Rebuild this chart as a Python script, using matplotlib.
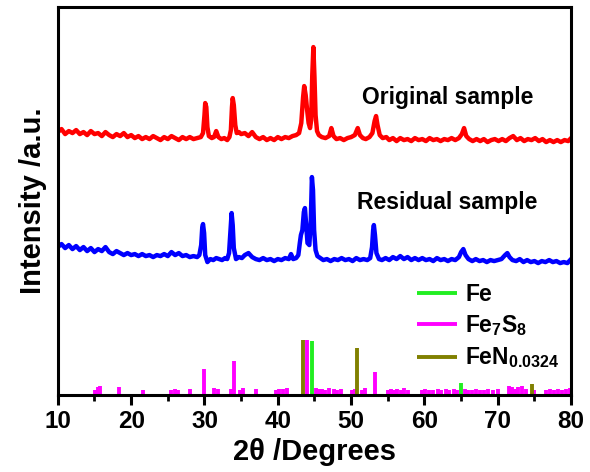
import matplotlib
matplotlib.use("Agg")
import matplotlib.pyplot as plt
from matplotlib.ticker import MultipleLocator

# XRD patterns (2theta in degrees, intensity in a.u. with offsets baked in)
red_2theta = [10.0, 10.5, 11.0, 11.5, 12.0, 12.5, 13.0, 13.5, 14.0, 14.5, 15.0, 15.5, 16.0, 16.5,
              17.0, 17.5, 18.0, 18.5, 19.0, 19.5, 20.0, 20.5, 21.0, 21.5, 22.0, 22.5, 23.0, 23.5,
              24.0, 24.5, 25.0, 25.5, 26.0, 26.5, 27.0, 27.5, 28.0, 28.5, 29.0, 29.5, 29.8, 30.0,
              30.1, 30.25, 30.4, 30.6, 31.0, 31.3, 31.6, 31.9, 32.3, 32.7, 33.1, 33.4, 33.6, 33.75,
              33.85, 34.0, 34.2, 34.4, 34.7, 35.0, 35.5, 36.0, 36.5, 37.0, 37.5, 38.0, 38.5, 39.0,
              39.5, 40.0, 40.5, 41.0, 41.5, 42.0, 42.5, 42.9, 43.2, 43.45, 43.6, 43.8, 44.0, 44.2,
              44.4, 44.55, 44.7, 44.85, 45.0, 45.15, 45.35, 45.6, 46.0, 46.5, 47.0, 47.3, 47.6, 48.0,
              48.5, 49.0, 49.5, 50.0, 50.5, 50.9, 51.2, 51.6, 52.0, 52.5, 52.9, 53.2, 53.4, 53.6,
              53.9, 54.3, 54.8, 55.2, 55.7, 56.2, 56.7, 57.2, 57.7, 58.2, 58.7, 59.2, 59.7, 60.2,
              60.7, 61.2, 61.7, 62.2, 62.7, 63.2, 63.7, 64.2, 64.7, 65.1, 65.4, 65.7, 66.1, 66.6,
              67.1, 67.6, 68.1, 68.6, 69.1, 69.6, 70.1, 70.6, 71.1, 71.6, 72.1, 72.6, 73.1, 73.6,
              74.1, 74.6, 75.1, 75.6, 76.1, 76.6, 77.1, 77.6, 78.1, 78.6, 79.1, 79.6, 80.0]
red_int = [263, 266, 261, 264, 262, 265, 261, 263, 260, 264, 261, 262, 259, 263,
           260, 258, 261, 259, 262, 258, 260, 257, 259, 256, 258, 256, 259, 257,
           255, 258, 256, 259, 257, 255, 258, 256, 258, 256, 257, 258, 262, 280,
           292, 288, 268, 259, 257, 258, 264, 258, 256, 257, 255, 258, 265, 288,
           297, 290, 270, 262, 263, 261, 262, 259, 263, 258, 256, 258, 255, 257,
           255, 258, 256, 258, 257, 259, 260, 262, 272, 298, 309, 300, 285, 272,
           267, 275, 320, 348, 318, 280, 264, 260, 258, 257, 259, 267, 259, 256,
           257, 255, 257, 258, 260, 267, 260, 257, 256, 258, 262, 274, 279, 270,
           260, 257, 258, 255, 257, 254, 257, 255, 256, 254, 257, 255, 256, 254,
           257, 255, 256, 254, 256, 255, 257, 255, 257, 261, 267, 259, 256, 254,
           256, 254, 256, 253, 255, 256, 254, 256, 254, 257, 259, 255, 257, 254,
           256, 255, 257, 254, 256, 253, 255, 253, 255, 253, 255, 254, 257]

blue_2theta = [10.0, 10.5, 11.0, 11.5, 12.0, 12.5, 13.0, 13.5, 14.0, 14.5, 15.0, 15.5, 16.0, 16.5,
               17.0, 17.5, 18.0, 18.5, 19.0, 19.5, 20.0, 20.5, 21.0, 21.5, 22.0, 22.5, 23.0, 23.5,
               24.0, 24.5, 25.0, 25.5, 26.0, 26.5, 27.0, 27.5, 28.0, 28.5, 29.0, 29.3, 29.55, 29.7,
               29.8, 29.95, 30.1, 30.4, 30.8, 31.2, 31.6, 32.0, 32.4, 32.8, 33.1, 33.35, 33.55, 33.7,
               33.85, 34.0, 34.3, 34.7, 35.1, 35.5, 36.0, 36.5, 37.0, 37.5, 38.0, 38.5, 39.0, 39.5,
               40.0, 40.5, 41.0, 41.5, 41.8, 42.1, 42.5, 42.8, 43.0, 43.15, 43.35, 43.55, 43.7, 43.85,
               44.05, 44.3, 44.5, 44.65, 44.8, 44.95, 45.15, 45.4, 45.8, 46.2, 46.7, 47.2, 47.7, 48.2,
               48.7, 49.2, 49.7, 50.2, 50.7, 51.2, 51.7, 52.2, 52.6, 52.85, 53.0, 53.1, 53.25, 53.45,
               53.8, 54.2, 54.7, 55.2, 55.7, 56.2, 56.7, 57.2, 57.7, 58.2, 58.7, 59.2, 59.7, 60.2,
               60.7, 61.2, 61.7, 62.2, 62.7, 63.2, 63.7, 64.2, 64.7, 65.0, 65.3, 65.6, 66.0, 66.5,
               67.0, 67.5, 68.0, 68.5, 69.0, 69.5, 70.0, 70.5, 71.0, 71.3, 71.6, 72.0, 72.5, 73.0,
               73.5, 74.0, 74.5, 75.0, 75.5, 76.0, 76.5, 77.0, 77.5, 78.0, 78.5, 79.0, 79.5, 80.0]
blue_int = [148, 151, 147, 150, 146, 149, 145, 148, 144, 147, 143, 146, 144, 148,
            143, 141, 144, 142, 140, 142, 140, 141, 139, 141, 139, 140, 138, 140,
            139, 141, 139, 143, 140, 142, 139, 140, 138, 139, 138, 140, 150, 168,
            171, 162, 140, 133, 136, 135, 137, 136, 135, 137, 136, 142, 165, 182,
            170, 147, 136, 138, 137, 140, 142, 138, 136, 135, 137, 135, 136, 134,
            136, 135, 137, 136, 141, 136, 137, 140, 152, 160, 165, 183, 187, 172,
            152, 150, 175, 218, 205, 165, 145, 139, 137, 135, 136, 134, 136, 135,
            137, 135, 136, 134, 137, 135, 136, 135, 137, 148, 165, 170, 160, 142,
            136, 135, 137, 135, 138, 136, 139, 136, 138, 135, 137, 135, 137, 135,
            136, 134, 137, 135, 136, 134, 136, 135, 138, 143, 146, 140, 136, 134,
            136, 134, 135, 133, 135, 134, 135, 136, 140, 142, 138, 135, 134, 136,
            133, 135, 133, 134, 132, 134, 133, 135, 133, 134, 132, 133, 132, 136]

# reference patterns (stick positions and relative heights)
fe_pos = [44.7, 65.0]
fe_h = [54, 12]
fen_pos = [43.5, 50.8, 74.7]
fen_h = [55, 47, 11]
fe7s8_pos = [15.1, 15.5, 15.8, 18.3, 21.6, 25.5, 26.0, 26.4, 28.0, 30.0, 31.3, 31.8, 33.6,
             34.0, 34.9, 35.2, 37.0, 39.7, 40.2, 40.7, 41.2, 44.0, 45.2, 45.6, 46.0, 46.5,
             47.0, 47.6, 48.1, 48.6, 50.1, 50.5, 51.5, 51.9, 53.3, 55.0, 55.4, 55.8, 56.3,
             56.8, 57.2, 57.7, 59.6, 60.1, 60.6, 61.2, 61.8, 62.3, 62.9, 63.4, 64.0, 64.5,
             65.5, 66.0, 66.5, 67.0, 67.6, 68.1, 68.7, 69.3, 70.0, 71.5, 71.9, 72.4, 72.8,
             73.3, 73.8, 75.0, 76.6, 77.1, 77.6, 78.2, 78.8, 79.3, 79.8]
fe7s8_h = [5, 8, 9, 8, 5, 5, 6, 5, 6, 26, 7, 6, 6,
           34, 5, 7, 6, 5, 6, 6, 7, 55, 7, 6, 6, 5,
           7, 6, 5, 6, 5, 6, 5, 7, 23, 5, 6, 5, 6,
           5, 7, 5, 5, 6, 5, 5, 6, 5, 6, 5, 6, 5,
           6, 5, 5, 6, 5, 5, 6, 5, 6, 9, 8, 6, 8,
           9, 6, 5, 5, 6, 5, 6, 5, 6, 7]

plt.rcParams['font.family'] = ['Liberation Sans', 'DejaVu Sans']
plt.rcParams['font.weight'] = 'bold'
plt.rcParams['mathtext.fontset'] = 'custom'
plt.rcParams['mathtext.bf'] = 'Liberation Sans:bold'
plt.rcParams['mathtext.rm'] = 'Liberation Sans:bold'

fig = plt.figure(figsize=(5.9, 4.72), dpi=100)
fig.subplots_adjust(left=0.098, right=0.968, bottom=0.163, top=0.985)
ax = fig.add_subplot(111)

ax.plot(red_2theta, red_int, color='#ff0000', lw=3.2)
ax.plot(blue_2theta, blue_int, color='#0000ff', lw=3.2)

ax.vlines(fe7s8_pos, 0, fe7s8_h, color='#ff00ff', lw=2.8, label=r'$\mathbf{Fe_7S_8}$')
ax.vlines(fen_pos, 0, fen_h, color='#808000', lw=2.8, label=r'$\mathbf{FeN_{0.0324}}$')
ax.vlines(fe_pos, 0, fe_h, color='#22ee22', lw=2.8, label='Fe')

ax.text(63.1, 298, 'Original sample', fontsize=16.5, fontweight='bold', ha='center', va='center')
ax.text(63.1, 193, 'Residual sample', fontsize=16.5, fontweight='bold', ha='center', va='center')

h, l = ax.get_legend_handles_labels()
order = [2, 0, 1]
ax.legend([h[i] for i in order], [l[i] for i in order], loc='upper left',
          bbox_to_anchor=(0.70, 0.29), frameon=False, fontsize=16.5, handlelength=1.75,
          handletextpad=0.35, labelspacing=0.33, borderpad=0, borderaxespad=0,
          labelcolor='linecolor')

ax.set_xlim(10, 80)
ax.set_ylim(0, 388)
ax.set_yticks([])
ax.xaxis.set_major_locator(MultipleLocator(10))
ax.xaxis.set_minor_locator(MultipleLocator(5))
ax.tick_params(axis='x', which='major', direction='out', length=7, width=2.2, labelsize=17.5, pad=4)
ax.tick_params(axis='x', which='minor', direction='out', length=4, width=2.0)
for lab in ax.get_xticklabels():
    lab.set_fontweight('bold')
for s in ax.spines.values():
    s.set_linewidth(2.2)

ax.set_xlabel('2θ /Degrees', fontsize=21, fontweight='bold', labelpad=3)
ax.set_ylabel('Intensity /a.u.', fontsize=21, fontweight='bold', labelpad=8)

plt.savefig('out.png', dpi=100)
